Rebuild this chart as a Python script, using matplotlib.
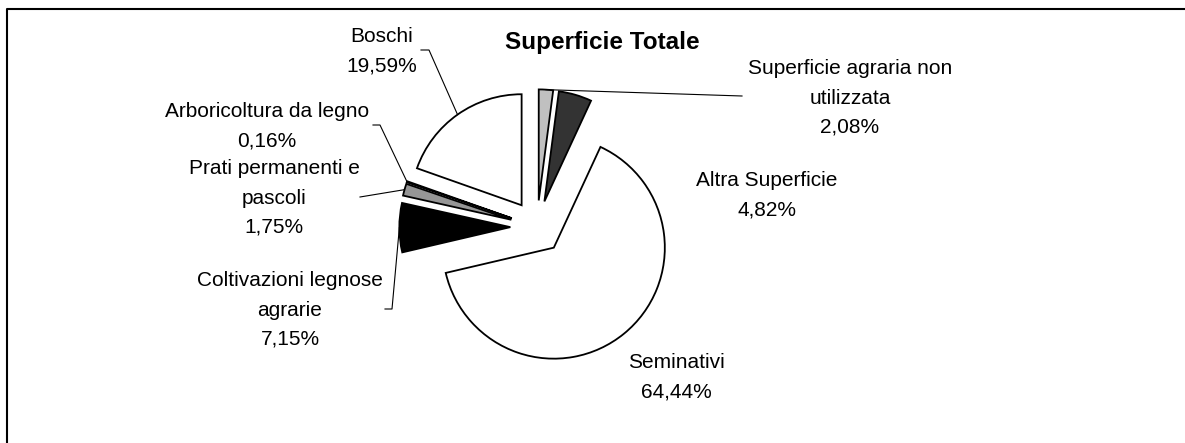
import numpy as np
import matplotlib
matplotlib.use("Agg")
import matplotlib.pyplot as plt

plt.rcParams['font.family'] = ['Liberation Sans', 'DejaVu Sans']

# data (clockwise from 12 o'clock)
categories = ["Superficie agraria non\nutilizzata", "Altra Superficie", "Seminativi",
              "Coltivazioni legnose\nagrarie", "Prati permanenti e\npascoli",
              "Arboricoltura da legno", "Boschi"]
values = [2.08, 4.82, 64.44, 7.15, 1.75, 0.16, 19.59]
colors = ["#c0c0c0", "#333333", "#ffffff", "#000000", "#969696", "#ffffff", "#ffffff"]

W, H = 1185, 443
R = 111


def py(y):
    # pixel row (from top) -> data y
    return H - y


# label layout: text centre, optional elbow points of the leader line (pixels)
label_pos = [(850, 98), (767, 195), (676, 377), (290, 310), (274, 198), (267, 126), (382, 51)]
leaders = [[(742, 96)], None, None, [(385, 309), (392, 309)], [(360, 197)],
           [(373, 125), (380, 125)], [(421, 50), (429, 50)]]

fig = plt.figure(figsize=(W / 100, H / 100), dpi=100)
ax = fig.add_axes([0, 0, 1, 1])

# explode is in data units here, so scale by the radius
wedges, _ = ax.pie(values, colors=colors, explode=[0.24 * R] * len(values), startangle=90,
                   counterclock=False, radius=R, center=(537, py(227)),
                   wedgeprops=dict(edgecolor="black", linewidth=1.3))

ax.set_xlim(0, W)
ax.set_ylim(0, H)
ax.set_aspect("auto")
ax.axis("off")

for w, name, val, pos, lead in zip(wedges, categories, values, label_pos, leaders):
    txt = name + "\n" + f"{val:.2f}".replace(".", ",") + "%"
    ax.text(pos[0], py(pos[1]), txt, ha="center", va="center", fontsize=15,
            linespacing=1.68, multialignment="center")
    if lead is not None:
        mid = np.deg2rad((w.theta1 + w.theta2) / 2)
        cx, cy = w.center
        arc = (cx + w.r * np.cos(mid), cy + w.r * np.sin(mid))
        xs = [p[0] for p in lead] + [arc[0]]
        ys = [py(p[1]) for p in lead] + [arc[1]]
        ax.plot(xs, ys, color="black", linewidth=0.8)

ax.text(602, py(42), "Superficie Totale", ha="center", va="center",
        fontsize=17.5, fontweight="bold")

# chart frame (only top and left edges are inside the picture)
ax.plot([7, 7, W + 5], [-5, py(9), py(9)], color="black", linewidth=1.5, clip_on=False)

fig.savefig("out.png", dpi=100)
